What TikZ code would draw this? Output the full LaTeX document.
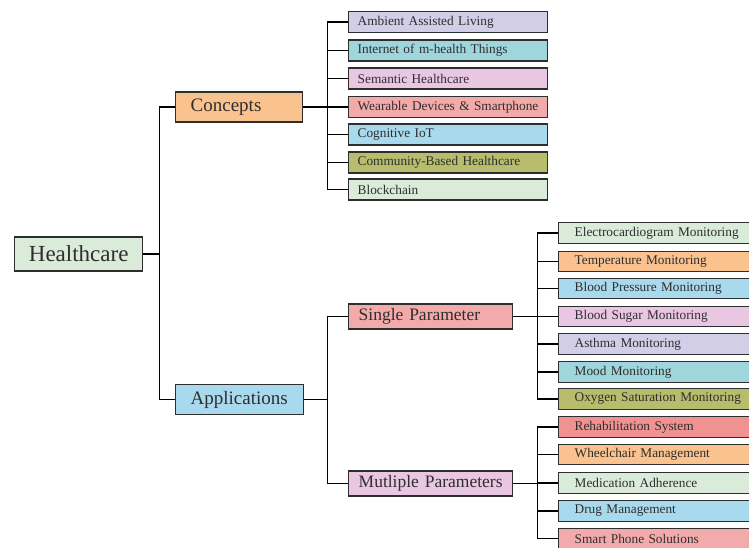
\documentclass[tikz,border=0pt]{standalone}
\usepackage{fontspec}
\setmainfont{Liberation Serif}
\usepackage{tikz}
\usetikzlibrary{positioning,calc}
\definecolor{green1}{HTML}{DAEBDA}
\definecolor{orange1}{HTML}{F9C28E}
\definecolor{lav1}{HTML}{D3CEE8}
\definecolor{teal1}{HTML}{9ED6DC}
\definecolor{pink1}{HTML}{E9C6E1}
\definecolor{salmon1}{HTML}{F3AAAA}
\definecolor{red1}{HTML}{F09292}
\definecolor{blue1}{HTML}{A8D9EC}
\definecolor{olive1}{HTML}{B7BD6C}
\definecolor{ink1}{HTML}{2E2E2E}

\begin{document}
\begin{tikzpicture}[
    x=1pt, y=-1pt,
    box/.style={draw=ink1, line width=1.4pt, text=ink1, anchor=west,
                inner ysep=0pt, align=left},
    root/.style={box, minimum width=128pt, minimum height=34pt,
                 inner xsep=0pt, text width=128pt, align=center,
                 font=\fontsize{23}{25}\selectfont},
    lvlone/.style={box, minimum height=30pt, inner xsep=15pt,
                   font=\fontsize{19}{21}\selectfont},
    lvltwo/.style={box, minimum height=25pt, inner xsep=10pt,
                   text width=144pt, font=\fontsize{17.5}{19}\selectfont},
    leafc/.style={box, minimum height=21pt, inner xsep=9pt,
                  text width=181pt, font=\fontsize{13.3}{15}\selectfont},
    leafa/.style={box, minimum height=20.5pt, inner xsep=16pt,
                  text width=170pt, font=\fontsize{13.3}{15}\selectfont},
    link/.style={draw=black, line width=1.6pt},
]
\useasboundingbox (0,0) rectangle (749,548);

% root and first level
\node[root, fill=green1] (hc) at (14,254) {Healthcare};
\node[lvlone, fill=orange1, text width=97pt] (conc) at (175,107) {Concepts};
\node[lvlone, fill=blue1, text width=98pt] (app) at (175,399.5) {Applications};

\draw[link] (hc.east) -- ++(16,0) |- (conc.west);
\draw[link] (hc.east) -- ++(16,0) |- (app.west);

% concepts
\node[leafc, fill=lav1] (c1) at (348,22) {Ambient Assisted Living};
\node[leafc, fill=teal1] (c2) at (348,50.5) {Internet of m-health Things};
\node[leafc, fill=pink1] (c3) at (348,78.5) {Semantic Healthcare};
\node[leafc, fill=salmon1] (c4) at (348,107) {\mbox{Wearable Devices \& Smartphone}};
\node[leafc, fill=blue1] (c5) at (348,134.5) {Cognitive IoT};
\node[leafc, fill=olive1] (c6) at (348,162.5) {Community-Based Healthcare};
\node[leafc, fill=green1] (c7) at (348,189.5) {Blockchain};

\foreach \n in {c1,c2,c3,c4,c5,c6,c7}
    \draw[link] (conc.east) -- ++(24,0) |- (\n.west);

% applications
\node[lvltwo, fill=salmon1] (sp) at (348,316.5) {Single Parameter};
\node[lvltwo, fill=pink1] (mp) at (348,483.5) {Mutliple Parameters};

\draw[link] (app.east) -- ++(23,0) |- (sp.west);
\draw[link] (app.east) -- ++(23,0) |- (mp.west);

% single parameter
\node[leafa, fill=green1] (s1) at (558,233) {Electrocardiogram Monitoring};
\node[leafa, fill=orange1] (s2) at (558,261.5) {Temperature Monitoring};
\node[leafa, fill=blue1] (s3) at (558,288.5) {Blood Pressure Monitoring};
\node[leafa, fill=pink1] (s4) at (558,316.5) {Blood Sugar Monitoring};
\node[leafa, fill=lav1] (s5) at (558,344) {Asthma Monitoring};
\node[leafa, fill=teal1] (s6) at (558,372) {Mood Monitoring};
\node[leafa, fill=olive1] (s7) at (558,399) {Oxygen Saturation Monitoring};

\foreach \n in {s1,s2,s3,s4,s5,s6,s7}
    \draw[link] (sp.east) -- ++(24,0) |- (\n.west);

% multiple parameters
\node[leafa, fill=red1] (m1) at (558,427) {Rehabilitation System};
\node[leafa, fill=orange1] (m2) at (558,454.5) {Wheelchair Management};
\node[leafa, fill=green1] (m3) at (558,483) {Medication Adherence};
\node[leafa, fill=blue1] (m4) at (558,511) {Drug Management};
\node[leafa, fill=salmon1] (m5) at (558,538.5) {Smart Phone Solutions};

\foreach \n in {m1,m2,m3,m4,m5}
    \draw[link] (mp.east) -- ++(24,0) |- (\n.west);
\end{tikzpicture}
\end{document}
